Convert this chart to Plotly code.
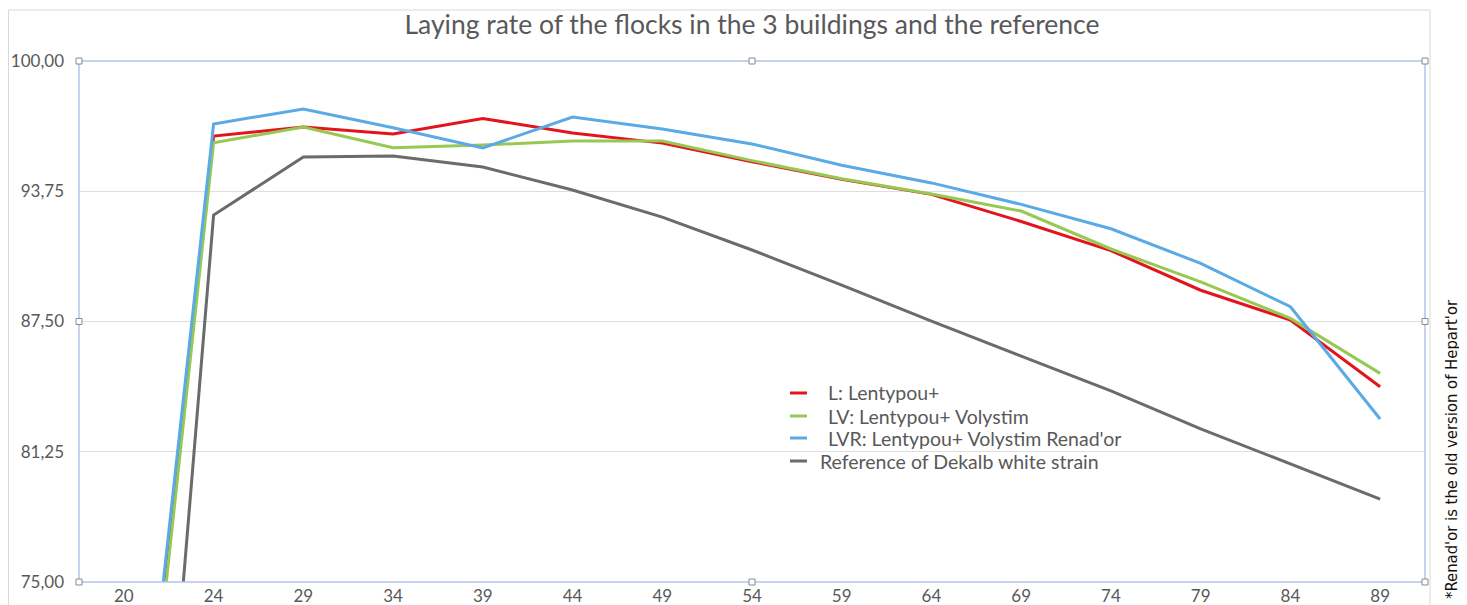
import plotly.graph_objects as go

weeks = ["20", "24", "29", "34", "39", "44", "49", "54", "59", "64", "69", "74", "79", "84", "89"]

lentypou = [56.7, 96.40, 96.83, 96.50, 97.24, 96.55, 96.06, 95.17, 94.32, 93.60, 92.30, 90.90, 89.00, 87.57, 84.37]
lentypou_volystim = [56.1, 96.08, 96.83, 95.84, 95.97, 96.16, 96.16, 95.22, 94.35, 93.62, 92.80, 90.98, 89.40, 87.65, 85.01]
lentypou_volystim_renador = [57.8, 96.98, 97.70, 96.80, 95.83, 97.31, 96.74, 96.02, 95.00, 94.15, 93.12, 91.95, 90.29, 88.21, 82.82]
dekalb_reference = [40.4, 92.61, 95.39, 95.44, 94.91, 93.81, 92.51, 90.93, 89.25, 87.52, 85.84, 84.17, 82.35, 80.66, 78.98]

series_names = ["L: Lentypou+", "LV: Lentypou+ Volystim", "LVR: Lentypou+ Volystim Renad'or",
                "Reference of Dekalb white strain"]
series_colors = ["#e3141b", "#97c853", "#5aaae6", "#6b6b6b"]
y_ticks = [75, 81.25, 87.5, 93.75, 100]

FONT = "Lato, Open Sans, sans-serif"
TXT = "#595959"

fig = go.Figure()
for name, vals, col in zip(series_names,
                           [lentypou, lentypou_volystim, lentypou_volystim_renador, dekalb_reference],
                           series_colors):
    fig.add_trace(go.Scatter(x=weeks, y=vals, mode="lines", name=name,
                             line=dict(color=col, width=3), showlegend=False))

# page is offset by the 8px body margin of the html page
OFF = 8
W, H = 1467 - OFF, 605 - OFF
L, R, T, B = 79, 1425, 61, 582          # plot area in page pixels


def px_x(p):
    return (p - L) / (R - L)


def px_y(p):
    return (B - p) / (B - T)


shapes = []
# outer chart-area frame
shapes.append(dict(type="rect", xref="paper", yref="paper",
                   x0=px_x(8.5), x1=px_x(1430), y0=px_y(620), y1=px_y(10),
                   line=dict(color="#d9d9d9", width=1), layer="below"))
# plot-area selection frame
shapes.append(dict(type="rect", xref="paper", yref="paper", x0=0, x1=1, y0=0, y1=1,
                   line=dict(color="#b4c3ea", width=1.5), layer="above"))
# selection handles
for hx in (0, 0.5, 1):
    for hy in (0, 0.5, 1):
        if hx == 0.5 and hy == 0.5:
            continue
        shapes.append(dict(type="rect", xref="paper", yref="paper",
                           xsizemode="pixel", ysizemode="pixel",
                           xanchor=hx, yanchor=hy, x0=-3, x1=3, y0=-3, y1=3,
                           fillcolor="white", line=dict(color="#8a8a8a", width=1),
                           layer="above"))

annotations = []
# legend (Excel-style short line keys)
leg_y = [393, 416, 438, 461]
leg_tx = [826, 826, 826, 818]
for name, col, ly, tx in zip(series_names, series_colors, leg_y, leg_tx):
    shapes.append(dict(type="line", xref="paper", yref="paper",
                       x0=px_x(790), x1=px_x(807), y0=px_y(ly), y1=px_y(ly),
                       line=dict(color=col, width=3), layer="above"))
    annotations.append(dict(text=name, xref="paper", yref="paper",
                            x=px_x(tx), y=px_y(ly), xanchor="left", yanchor="middle",
                            showarrow=False, font=dict(family=FONT, size=19.5, color=TXT)))

annotations.append(dict(text="*Renad'or is the old version of Hepart'or",
                        xref="paper", yref="paper", x=px_x(1451), y=px_y(297),
                        xanchor="center", yanchor="top", textangle=-90, showarrow=False,
                        font=dict(family="DejaVu Sans Condensed, Liberation Sans Narrow, sans-serif",
                                  size=16.5, color="#111111")))

fig.update_layout(
    width=W, height=H,
    margin=dict(l=L - OFF, r=W - (R - OFF), t=T - OFF, b=H - (B - OFF), autoexpand=False),
    paper_bgcolor="white", plot_bgcolor="white",
    separators=",.",
    font=dict(family=FONT, color=TXT, size=17),
    title=dict(text="Laying rate of the flocks in the 3 buildings and the reference",
               x=px_x(752), xref="paper", xanchor="center",
               y=1 - (25 - OFF) / H, yanchor="middle", yref="container",
               font=dict(size=26.5, color=TXT, family=FONT)),
    xaxis=dict(type="category", range=[-0.5, 14.5], showgrid=False, zeroline=False,
               showline=False, ticks="", tickfont=dict(size=17, color=TXT),
               ticklabelstandoff=2, automargin=False),
    yaxis=dict(range=[75, 100], tickvals=y_ticks, tickformat=".2f",
               showgrid=True, gridcolor="#dedede", gridwidth=1, zeroline=False,
               showline=False, ticks="", tickfont=dict(size=17, color=TXT),
               ticklabelstandoff=14, automargin=False),
    shapes=shapes,
    annotations=annotations,
)

fig.write_html("out.html")
